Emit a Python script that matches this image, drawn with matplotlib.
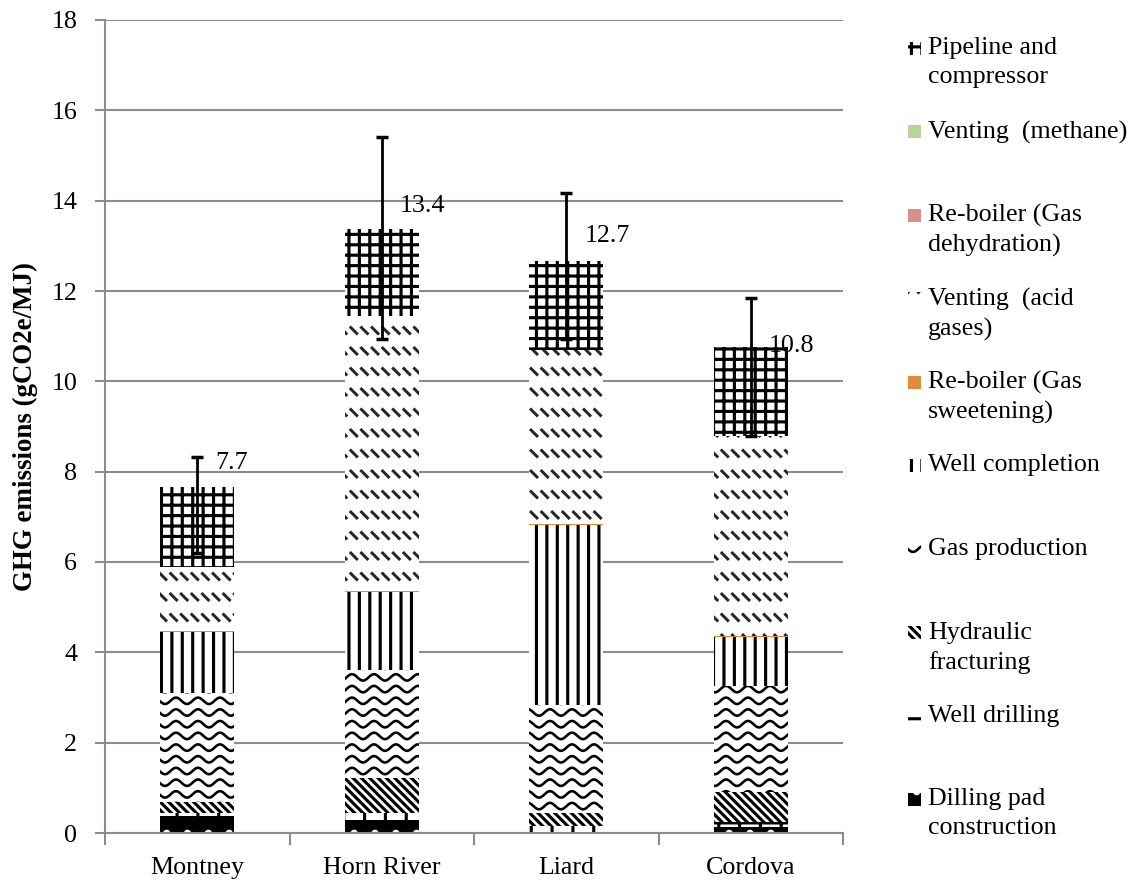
import numpy as np
import matplotlib
matplotlib.use("Agg")
import matplotlib.pyplot as plt
from matplotlib.patches import Rectangle
from matplotlib.collections import LineCollection
from matplotlib.transforms import IdentityTransform

plt.rcParams['font.family'] = ['Liberation Serif', 'DejaVu Serif']
plt.rcParams['hatch.linewidth'] = 1.8

DPI = 125
W, H = 1138, 888

# emissions by life-cycle stage, gCO2e/MJ
basins = ['Montney', 'Horn River', 'Liard', 'Cordova']
pad = [0.38, 0.29, 0.0, 0.14]
drilling = [0.07, 0.15, 0.15, 0.11]
fracturing = [0.24, 0.78, 0.30, 0.66]
gas_production = [2.42, 2.38, 2.39, 2.35]
completion = [1.33, 1.73, 3.97, 1.08]
reboiler_sweet = [0.03, 0.03, 0.03, 0.03]
venting_acid = [1.41, 6.09, 3.86, 4.43]
reboiler_dehyd = [0.0, 0.0, 0.0, 0.0]
venting_methane = [0.0, 0.0, 0.0, 0.0]
pipeline = [1.77, 1.93, 1.96, 1.96]

# uncertainty range around the totals
err_low = [1.45, 2.45, 1.73, 1.96]
err_high = [0.67, 2.04, 1.51, 1.08]
label_dy = [0.55, 0.5, 0.55, 0.02]

# bottom-to-top stacking order
stages = [
    ('Dilling pad\nconstruction', pad, dict(face='black', hc='white', hatch='.')),
    ('Well drilling', drilling, dict(face='white', hc='black', hatch='+')),
    ('Hydraulic\nfracturing', fracturing, dict(face='white', hc='black', hatch='\\' * 5)),
    ('Gas production', gas_production, dict(face='white', hc='black', hatch=None, pattern='wave')),
    ('Well completion', completion, dict(face='white', hc='black', hatch='||')),
    ('Re-boiler (Gas\nsweetening)', reboiler_sweet, dict(face='#E08A3C', hc='#E08A3C', hatch=None)),
    ('Venting  (acid\ngases)', venting_acid, dict(face='white', hc='black', hatch=None, pattern='dash')),
    ('Re-boiler (Gas\ndehydration)', reboiler_dehyd, dict(face='#D8908F', hc='#D8908F', hatch=None)),
    ('Venting  (methane)', venting_methane, dict(face='#B9D49A', hc='#B9D49A', hatch=None)),
    ('Pipeline and\ncompressor', pipeline, dict(face='white', hc='black', hatch='++')),
]


def wave_lines(bb, spacing=11.7, period=22.0, amp=3.2):
    xs = np.arange(np.floor(bb.x0) - 4, bb.x1 + 4, 0.5)
    segs = []
    y = np.floor(bb.y0 / spacing) * spacing
    while y < bb.y1 + spacing:
        segs.append(np.column_stack([xs, y + amp * np.cos(2 * np.pi * xs / period)]))
        y += spacing
    return LineCollection(segs, colors='black', linewidths=1.5,
                          transform=IdentityTransform())


def dash_lines(bb, row=20.5, step=10.6, size=8.0):
    segs = []
    y = np.floor(bb.y0 / row) * row
    while y < bb.y1 + row:
        xx = np.floor(bb.x0 / step) * step - step
        while xx < bb.x1 + step:
            segs.append([(xx, y + size), (xx + size, y)])
            xx += step
        y += row
    return LineCollection(segs, colors='#262626', linewidths=1.7,
                          transform=IdentityTransform())


def add_pattern(container, patch, kind):
    bb = patch.get_window_extent()
    if bb.height < 0.5:
        return
    lc = wave_lines(bb) if kind == 'wave' else dash_lines(bb)
    lc.set_zorder(patch.get_zorder() + 0.1)
    container.add_artist(lc)
    lc.set_clip_path(patch)


fig = plt.figure(figsize=(W / DPI, H / DPI), dpi=DPI)
ax = fig.add_axes([105 / W, 1 - 833 / H, 738 / W, 813 / H])
ax.set_xlim(-0.5, 3.5)
ax.set_ylim(0, 18)

x = np.arange(len(basins))
bottom = np.zeros(len(basins))
for name, vals, st in stages:
    vals = np.array(vals)
    bars = ax.bar(x, vals, 0.4, bottom=bottom, facecolor=st['face'],
                  edgecolor=st['hc'], hatch=st['hatch'], linewidth=0, zorder=2)
    if st.get('pattern'):
        for b in bars:
            add_pattern(ax, b, st['pattern'])
    bottom += vals

totals = bottom
ax.errorbar(x, totals, yerr=[err_low, err_high], fmt='none', ecolor='black',
            elinewidth=1.6, capsize=3.5, capthick=2.0, zorder=4)
for i, t in enumerate(totals):
    ax.text(i + 0.1, t + label_dy[i], f'{t:.1f}', ha='left', va='center',
            fontsize=15, zorder=5)

# axes styling
grey = '#8c8c8c'
ax.set_yticks(np.arange(0, 19, 2))
ax.yaxis.grid(True, color=grey, linewidth=1.2)
ax.set_axisbelow(True)
ax.tick_params(axis='y', length=6, width=1.2, color=grey, pad=10, labelsize=15)
ax.set_xticks(x, basins)
ax.tick_params(axis='x', which='major', length=0, pad=14, labelsize=15)
ax.set_xticks(np.arange(-0.5, 4, 1), minor=True)
ax.tick_params(axis='x', which='minor', length=7, width=1.2, color=grey)
for s in ['top', 'right']:
    ax.spines[s].set_visible(False)
for s in ['left', 'bottom']:
    ax.spines[s].set_color(grey)
    ax.spines[s].set_linewidth(1.2)
ax.set_ylabel('GHG emissions (gCO2e/MJ)', fontsize=15.5, fontweight='bold')
ax.yaxis.set_label_coords(-0.091, 0.5)

# legend, top entry first
for k, (name, vals, st) in enumerate(stages[::-1]):
    yc = H - (48 + 83.5 * k)
    box = Rectangle((908, yc - 6.5), 13, 13, facecolor=st['face'],
                    edgecolor=st['hc'], hatch=st['hatch'], linewidth=0,
                    transform=IdentityTransform())
    fig.add_artist(box)
    if st.get('pattern'):
        add_pattern(fig, box, st['pattern'])
    fig.text(928 / W, (yc + 11) / H, name, ha='left', va='top', fontsize=15,
             linespacing=1.4)

fig.savefig('out.png', dpi=DPI)
